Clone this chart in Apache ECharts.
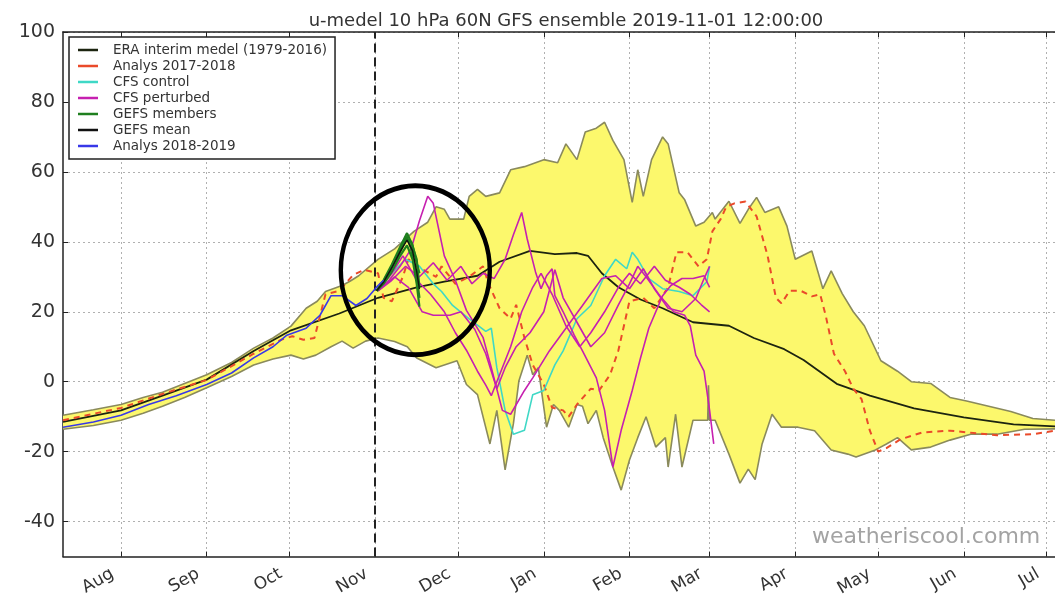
<!DOCTYPE html>
<html>
<head>
<meta charset="utf-8">
<title>u-medel 10 hPa 60N GFS ensemble</title>
<script src="https://cdn.jsdelivr.net/npm/echarts@6/dist/echarts.min.js"></script>
<style>
  html, body { margin: 0; padding: 0; background: #fff; }
  #chart { width: 1055px; height: 599px; }
</style>
</head>
<body>
<div id="chart"></div>
<script>
// x = dagar efter 1 aug 2019
const monthNames = ['Aug', 'Sep', 'Oct', 'Nov', 'Dec', 'Jan', 'Feb', 'Mar', 'Apr', 'May', 'Jun', 'Jul']
const monthStarts = [0, 31, 61, 92, 122, 153, 184, 213, 244, 274, 305, 335]
const yTicks = [-40, -20, 0, 20, 40, 60, 80, 100]
const forecastDay = 92 // 2019-11-01
const circleCenter = [106.5, 31.9]

// ERA interim max / min (gula fältet)
const eraMax = [[-21,-9.6],[-10,-8],[0,-6.5],[8,-4.5],[15,-3],[23,-0.5],[31,2],[40,5.5],[48,9.6],[55,12.5],[61.5,15.9],[67,21],[71,23],[74,25.8],[80,27.5],[83,28.8],[86,30.3],[93,35],[99,38],[106,43],[111,45.6],[114,50],[117,49.3],[119,46.5],[124,46.5],[126,53],[129,55],[132,53],[137,54],[141,60.6],[146,61.5],[153,63.5],[158,62.6],[161,68],[165,63.5],[168,71.4],[172,72.5],[175,74.2],[178,69],[182,63.5],[185,51.3],[187,60.6],[189,53],[192,63.5],[196,70],[198,68],[202,54],[204,52],[208,44.5],[211,45.6],[214,48.4],[215,46.5],[220,51.6],[224,45.3],[227,49.3],[230,52.7],[233,48.4],[238,50],[241,44.5],[244,35],[250,37.4],[254,26.6],[257,31.7],[261,25.2],[265,20],[269,16],[275,6],[281,3],[286,0],[293,-0.5],[300,-4.5],[306,-5.5],[314,-7],[322,-8.5],[330,-10.5],[338,-11]]
const eraMin = [[-21,-13.6],[-10,-12.5],[0,-11],[8,-9],[15,-7],[23,-4.5],[31,-1.7],[40,1.5],[48,4.8],[55,6.5],[61.5,7.6],[66,6.5],[70.5,7.6],[76,10],[80,11.6],[84,9.6],[88.5,11.6],[93,12.5],[99,11.5],[103.6,10],[107,6.8],[114,4],[121.6,6],[125,-0.8],[129,-3.7],[133.5,-17.8],[136,-8.2],[139,-25.2],[142,-12],[144,0.3],[147,7.6],[149,2],[151,4],[154,-13],[156.5,-6.5],[158.6,-8.2],[162,-13],[165,-6.5],[167,-7],[169,-12],[172,-8.2],[174.5,-16],[178,-24.4],[181,-31],[184,-22.4],[187,-16],[190,-10],[193.5,-18.7],[197,-16],[198,-24.4],[200.7,-9.3],[203,-24.4],[207,-11],[210,-11],[212.3,-11],[212.6,-1],[212.9,-11],[215,-11],[220,-20.7],[224,-29],[227,-25],[229.5,-28],[232,-17.8],[235.6,-9.3],[239,-13],[245,-13],[251,-14],[257,-19.5],[263,-20.7],[266,-21.5],[273,-19.5],[277,-17.8],[281,-16],[286,-19.5],[293,-18.7],[300,-16.7],[307.5,-15],[317,-15],[327,-13.6],[338,-13.5]]
const eraMean = [[-21,-11.5],[0,-8.2],[15,-4],[31,0.6],[48,8.8],[61.5,14.7],[79,19.5],[93,24],[107,27],[117,28.6],[129,30.3],[137,34.3],[148,37.4],[157,36.5],[165,36.8],[169,36],[174,31],[180,27],[188,23.5],[196,21],[207,17],[220,16],[229,12.5],[240,9.3],[247,6.2],[259,-0.6],[271,-4],[287,-7.6],[305,-10.2],[323,-12.2],[338,-12.8]]

// Analys 2017-2018
const analys1718 = [[-21,-11],[0,-7.5],[15,-3.5],[31,0.5],[48,8],[58,12],[62,13],[66,12],[70,12.5],[74,25],[79,26],[84,30.5],[88,32],[93,31],[95,24],[98,23],[102,30],[104,35],[107,33],[114,30],[116,33],[121,28],[126,30],[131,33],[133,28],[137,21],[141,18],[143,22],[146,12.5],[149,4.8],[153,-0.8],[156,-7.4],[160,-8.2],[162,-10],[165,-6.5],[170,-2],[173,-2.5],[177,2],[180,9],[182,16],[184,23],[189,24],[193,21],[198,27],[201,37],[205,37],[209,33],[212,35],[214,43],[217,46.5],[219,50],[222,51],[226,51.5],[230,47.3],[234,36],[237,24],[239,22.4],[242,26],[246,26],[250,24.4],[253,25],[255,19],[258,8],[262,3],[265,-2],[268,-5],[271,-14],[274,-20],[277,-19],[282,-16.5],[290,-14.5],[300,-14],[317,-15.3],[330,-15],[338,-14]]

// Analys 2018-2019
const analys1819 = [[-21,-13],[-10,-11.5],[0,-9.6],[10,-6.5],[20,-4],[31,-0.8],[40,2.5],[48,6.8],[55,10],[60,13.3],[67,15.3],[72,19],[76,24.6],[80,24.6],[85,21.8],[89,23.8],[93,27.5],[95,29]]

// CFS
const cfsControl = [[93,26],[98,31],[103,35],[108,33],[113,28],[116,25.8],[120,21.8],[126,18],[132,14.4],[134,15.3],[136,4],[139,-8.2],[142,-15],[146,-13.9],[149,-3.7],[153,-2.5],[157,4.8],[160,8.8],[165,18],[170,21.8],[175,30.3],[179,35],[183,32.3],[185,37],[187,35],[191,29.5],[196,26.6],[202,25.8],[207,24.6],[212,28.6],[213,33]]
const cfsPert1 = [[93,26],[97,29],[101,33],[105,38],[108,46],[111,53],[113,51],[117,36],[121,29],[125,20.4],[131,12.7],[134,4],[138,-8.2],[141,-9.3],[146,-2.5],[149,1.1],[155,8.8],[161,15.3],[167,21.8],[174,29.5],[179,30.3],[184,26.6],[189,32.3],[193,26.6],[198,21],[203,20],[208,23.8],[211,29.5],[213,33]]
const cfsPert2 = [[93,26],[98,29],[103,33],[108,30],[113,34],[118,29],[123,33],[127,28],[131,31],[135,29.5],[139,35],[142,42],[145,48.4],[147,40.8],[150,31.4],[152,26.6],[154,30.3],[156,32.3],[157,24.6],[160,20],[164,13.3],[167,8.8],[172,1.1],[175,-8.2],[178,-24.4],[181,-13.9],[185,-2.5],[188,6.8],[191,15.3],[196,24.6],[199,27.5],[203,29.5],[207,29.5],[211,30.3],[213,27]]
const cfsPert3 = [[93,26],[99,30],[104,27],[109,20],[113,19],[119,19],[123,20],[128,15],[132,8],[136,-2],[139,4],[143,10],[148,14],[153,20],[157,32],[160,24],[165,17],[170,10],[175,14],[180,22],[184,28],[187,33],[190,30],[195,24.6],[200,20],[204,19],[206,16],[208,7.6],[211,3],[213,-8.2],[214.5,-17.8]]
const cfsPert4 = [[93,26],[98,31],[102,36],[107,29],[112,25],[117,20],[121,14],[125,9],[129,3],[132,-1],[134,-4],[137,2],[141,10],[145,20],[149,27],[152,31],[156,25],[161,16],[166,10],[170,14],[175,20],[180,27],[184,31],[188,28],[193,33],[197,29],[202,27],[206,25],[210,22],[213,20]]

// GEFS
const gefs1 = [[92.5,26],[95,28.5],[98,32.5],[101,37.5],[103.5,41.5],[105,38],[107,30],[108,24]]
const gefs2 = [[92.5,26],[95,29],[98,33.5],[101,38.5],[103.5,42.5],[105.5,39],[107,34],[108,31]]
const gefs3 = [[92.5,26],[95,28],[98,31.5],[101,36],[103.5,39],[105.5,35],[107,28],[108,21.5]]
const gefs4 = [[92.5,26],[95,28.7],[98,33],[101,37],[103,40.5],[105,40],[107,35],[108,27]]
const gefsMean = [[92.5,26],[95,28.5],[98,32.6],[101,37.2],[103.5,40.5],[105.5,37.5],[107,31.5],[108,26.5]]

const font = 'DejaVu Sans'

function line(name, data, color, width, z, dash) {
  return {
    name: name,
    type: 'line',
    data: data,
    showSymbol: false,
    symbol: 'none',
    color: color,
    z: z,
    silent: true,
    lineStyle: { color: color, width: width, type: dash || 'solid' }
  }
}

const chart = echarts.init(document.getElementById('chart'))

const option = {
  animation: false,
  backgroundColor: '#fff',
  title: {
    text: 'u-medel 10 hPa 60N GFS ensemble 2019-11-01 12:00:00',
    left: 561,
    top: 7,
    textAlign: 'center',
    textStyle: { fontFamily: font, fontSize: 18, fontWeight: 'normal', color: '#333' }
  },
  grid: { left: 63, right: -6, top: 32, bottom: 38 },
  legend: {
    orient: 'vertical',
    left: 69,
    top: 37,
    padding: [6, 8, 6, 9],
    itemGap: 2,
    itemWidth: 20,
    itemHeight: 2.5,
    icon: 'rect',
    selectedMode: false,
    backgroundColor: '#fff',
    borderColor: '#222',
    borderWidth: 1.5,
    borderRadius: 0,
    textStyle: { fontFamily: font, fontSize: 13.5, color: '#333', lineHeight: 14, padding: [0, 0, 0, 10] },
    data: ['ERA interim medel (1979-2016)', 'Analys 2017-2018', 'CFS control', 'CFS perturbed', 'GEFS members', 'GEFS mean', 'Analys 2018-2019']
  },
  xAxis: [{
    type: 'value',
    min: -21,
    max: 338,
    axisLine: { show: true, onZero: false, lineStyle: { color: '#222', width: 1.5 } },
    axisTick: { show: true, inside: true, length: 5, customValues: monthStarts, lineStyle: { color: '#222' } },
    axisLabel: {
      customValues: monthStarts,
      rotate: 30,
      margin: 11,
      padding: [0, 10, 0, 0],
      fontFamily: font,
      fontSize: 17,
      color: '#333',
      formatter: function (v) { return monthNames[monthStarts.indexOf(v)] || '' }
    },
    splitLine: { show: true, lineStyle: { color: '#b0b0b0', width: 1, type: [2, 3] } }
  }, {
    type: 'value',
    position: 'top',
    min: -21,
    max: 338,
    axisLine: { show: true, onZero: false, lineStyle: { color: '#222', width: 1.5 } },
    axisTick: { show: true, inside: true, length: 5, customValues: monthStarts, lineStyle: { color: '#222' } },
    axisLabel: { show: false },
    splitLine: { show: false }
  }],
  yAxis: {
    type: 'value',
    min: -50,
    max: 100,
    axisLine: { show: true, onZero: false, lineStyle: { color: '#222', width: 1.5 } },
    axisTick: { show: true, inside: true, length: 5, customValues: yTicks, lineStyle: { color: '#222' } },
    axisLabel: { customValues: yTicks, margin: 8, fontFamily: font, fontSize: 19, color: '#333' },
    splitLine: { show: true, lineStyle: { color: '#b0b0b0', width: 1, type: [2, 3] } }
  },
  graphic: [{
    type: 'text',
    left: 812,
    top: 526,
    z: 100,
    silent: true,
    style: { text: 'weatheriscool.comm', fontFamily: font, fontSize: 22, fill: '#a3a3a3', backgroundColor: '#fff' }
  }],
  series: [
    {
      // gula fältet mellan max och min
      type: 'custom',
      silent: true,
      z: 1,
      data: [[0, 0]],
      renderItem: function (params, api) {
        const pts = eraMax.map(p => api.coord(p)).concat(eraMin.slice().reverse().map(p => api.coord(p)))
        return { type: 'polygon', shape: { points: pts }, style: { fill: '#fcf86c', stroke: null } }
      }
    },
    line('', eraMax, '#8a8a5c', 1.6, 2),
    line('', eraMin, '#8a8a5c', 1.6, 2),
    Object.assign(line('ERA interim medel (1979-2016)', eraMean, '#1c2410', 1.8, 3), {
      markLine: {
        silent: true,
        symbol: 'none',
        label: { show: false },
        lineStyle: { color: '#222', width: 2, type: [9, 5] },
        data: [{ xAxis: forecastDay }]
      }
    }),
    line('Analys 2017-2018', analys1718, '#ea4a2a', 2, 4, [6, 5]),
    line('CFS control', cfsControl, '#3fd8c6', 1.6, 5),
    line('CFS perturbed', cfsPert1, '#c620b0', 1.6, 5),
    line('CFS perturbed', cfsPert2, '#c620b0', 1.6, 5),
    line('CFS perturbed', cfsPert3, '#c620b0', 1.6, 5),
    line('CFS perturbed', cfsPert4, '#c620b0', 1.6, 5),
    line('GEFS members', gefs1, '#1f7f1f', 2.2, 6),
    line('GEFS members', gefs2, '#1f7f1f', 2.2, 6),
    line('GEFS members', gefs3, '#1f7f1f', 2.2, 6),
    line('GEFS members', gefs4, '#1f7f1f', 2.2, 6),
    line('GEFS mean', gefsMean, '#111', 1.4, 7),
    line('Analys 2018-2019', analys1819, '#3838e8', 1.6, 7),
    {
      // ringen runt GEFS-prognosen
      type: 'custom',
      silent: true,
      z: 10,
      data: [circleCenter],
      renderItem: function (params, api) {
        const c = api.coord([api.value(0), api.value(1)])
        return {
          type: 'circle',
          x: c[0],
          y: c[1],
          scaleX: 74.5 / 84.5,
          shape: { cx: 0, cy: 0, r: 84.5 },
          style: { fill: 'none', stroke: '#000', lineWidth: 5, strokeNoScale: true }
        }
      }
    }
  ]
}

chart.setOption(option)
</script>
</body>
</html>
